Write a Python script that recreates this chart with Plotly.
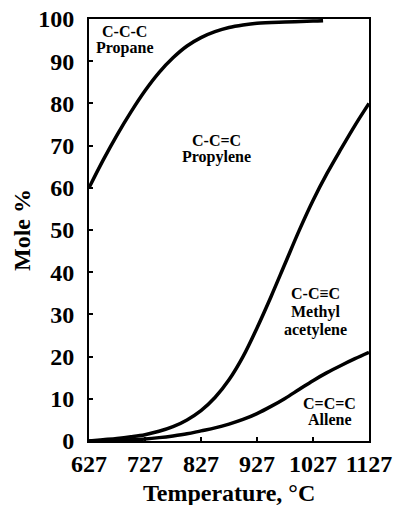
import plotly.graph_objects as go

# Data
temp_propane = [627, 652, 677, 702, 727, 752, 777, 802, 827, 852, 877, 902, 927, 977, 1027, 1045]
propane = [60, 66.5, 72.5, 78, 83, 87.3, 90.8, 93.6, 95.6, 97.0, 98.0, 98.6, 99.0, 99.3, 99.5, 99.6]

temp = [627, 652, 677, 702, 727, 752, 777, 802, 827, 852, 877, 902, 927, 952, 977, 1002, 1027, 1052, 1077, 1102, 1127]
methyl_acetylene = [0, 0.3, 0.6, 1.0, 1.5, 2.3, 3.4, 5.0, 7.2, 10.3, 14.5, 20.0, 26.8, 34.2, 42, 49.8, 57.0, 63.4, 69.2, 74.8, 80]
allene = [0, 0.05, 0.15, 0.3, 0.5, 0.8, 1.2, 1.7, 2.4, 3.1, 4.0, 5.1, 6.5, 8.2, 10.1, 12.2, 14.3, 16.2, 17.9, 19.5, 21]

x_ticks = [627, 727, 827, 927, 1027, 1127]
y_ticks = [0, 10, 20, 30, 40, 50, 60, 70, 80, 90, 100]

labels = [
    ("C-C-C", 689.5, 97.0), ("Propane", 689.5, 93.1),
    ("C-C=C", 854, 71.2), ("Propylene", 854, 67.4),
    ("C-C\u2261C", 1032, 35.0), ("Methyl", 1032, 30.6), ("acetylene", 1032, 26.3),
    ("C=C=C", 1057, 8.8), ("Allene", 1057, 5.2),
]

FONT = "Liberation Serif, Times New Roman, DejaVu Serif, serif"
line = dict(color="black", width=3.5)

fig = go.Figure()
fig.add_trace(go.Scatter(x=temp_propane, y=propane, mode="lines", line=dict(line, shape="spline", smoothing=1.0), showlegend=False))
fig.add_trace(go.Scatter(x=temp, y=methyl_acetylene, mode="lines", line=dict(line, shape="spline", smoothing=1.0), showlegend=False))
fig.add_trace(go.Scatter(x=temp, y=allene, mode="lines", line=dict(line, shape="spline", smoothing=1.0), showlegend=False))

for text, x, y in labels:
    fig.add_annotation(x=x, y=y, text=f"<b>{text}</b>", showarrow=False,
                       font=dict(family=FONT, size=16, color="black"), xanchor="center", yanchor="middle")

fig.add_annotation(xref="paper", yref="paper", x=0.5, y=0, yshift=-52, text="<b>Temperature, °C</b>",
                   showarrow=False, font=dict(family=FONT, size=24, color="black"), xanchor="center", yanchor="middle")
fig.add_annotation(xref="paper", yref="paper", x=0, y=0.5, xshift=-67, text="<b>Mole %</b>", textangle=-90,
                   showarrow=False, font=dict(family=FONT, size=24, color="black"), xanchor="center", yanchor="middle")

axis_common = dict(showgrid=False, zeroline=False, showline=True, linecolor="black", linewidth=2,
                   mirror=True, ticks="inside", ticklen=4, tickwidth=1.5, tickcolor="black", automargin=False,
                   tickfont=dict(family=FONT, size=24, color="black"))

fig.update_xaxes(range=[627, 1127], tickvals=x_ticks, ticktext=[f"<b>{v}</b>" for v in x_ticks], **axis_common)
fig.update_yaxes(range=[0, 100], tickvals=y_ticks, ticktext=[f"<b>{v}</b>" for v in y_ticks],
                 ticklabelstandoff=8, **axis_common)

fig.update_layout(width=395, height=505, margin=dict(l=89, r=26, t=19, b=64, autoexpand=False),
                  plot_bgcolor="white", paper_bgcolor="white", showlegend=False,
                  font=dict(family=FONT, color="black"))

fig.write_html("out.html", config={"displayModeBar": False},
               post_script="document.body.style.margin='0px';document.body.style.overflow='hidden';")
